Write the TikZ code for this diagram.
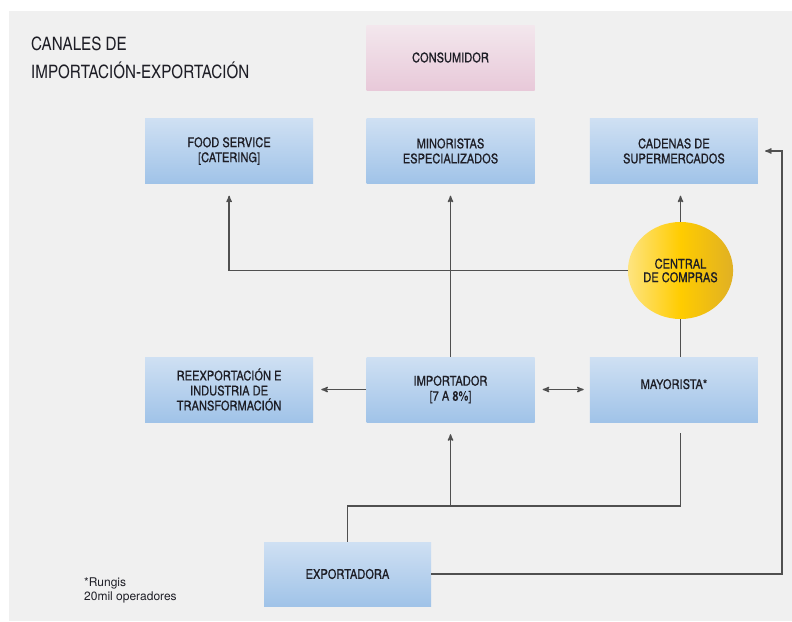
\documentclass[tikz,border=0pt]{standalone}
\usepackage{fontspec}
\setmainfont{TeX Gyre Heros}
\newfontfamily\condfont{TeX Gyre Heros Cn}
\newfontfamily\labelfont{TeX Gyre Heros Cn}[FakeBold=0.5]
\usetikzlibrary{
  arrows,
  shapes.geometric,
  positioning,
  scopes
}
\definecolor{panelgray}{RGB}{240,240,240}
\definecolor{boxtop}{RGB}{207,224,243}
\definecolor{boxbottom}{RGB}{160,195,232}
\definecolor{pinktop}{RGB}{243,231,237}
\definecolor{pinkbottom}{RGB}{232,201,217}
\definecolor{goldleft}{RGB}{254,228,128}
\definecolor{goldmid}{RGB}{255,204,0}
\definecolor{goldright}{RGB}{224,176,36}
\definecolor{linegray}{RGB}{80,80,80}
\definecolor{labeltext}{RGB}{30,30,38}

\begin{document}
\begin{tikzpicture}[x=1pt,y=-1pt,
      channel/.style={
         rectangle,
         minimum width=168pt,
         minimum height=65pt,
         inner sep=0pt,
         top color=boxtop,
         bottom color=boxbottom,
         align=center,
         text=labeltext,
         font=\labelfont\fontsize{13.5}{15}\selectfont
      },
      consumer/.style={
         channel,
         top color=pinktop,bottom color=pinkbottom
      },
      hub/.style={
         ellipse,
         minimum width=105pt,
         minimum height=97pt,
         inner sep=0pt,
         left color=goldleft,right color=goldright,middle color=goldmid,
         align=center,
         text=labeltext,
         font=\labelfont\fontsize{13.5}{13.5}\selectfont
      },
      point/.style={coordinate},>=stealth',
      link/.style={draw=linegray,line width=1.3pt},
      tip/.style={->,shorten >=12pt},
      hv path/.style={to path={-| (\tikztotarget)}},
      vh path/.style={to path={|- (\tikztotarget)}}
    ]
    \useasboundingbox (0,0) rectangle (792,621);
    \fill[panelgray] (9,11) rectangle (792,621);

    \node (title) [anchor=base west, align=left, inner sep=0pt, text=labeltext,
       font=\condfont\fontsize{18.5}{28}\selectfont] at (31,78) {CANALES DE\\IMPORTACIÓN-EXPORTACIÓN};
    \node (note) [anchor=base west, align=left, inner sep=0pt, text=labeltext,
       font=\fontsize{12}{14}\selectfont] at (84,600) {*Rungis\\20mil operadores};

    \node (consumer) [consumer] at (450.5,57.5) {CONSUMIDOR};
    \node (retail) [channel] at (450.5,151) {MINORISTAS\\ESPECIALIZADOS};
    \node (food) [channel, left=53pt of retail] {FOOD SERVICE\\{[CATERING]}};
    \node (chains) [channel, right=55pt of retail] {CADENAS DE\\SUPERMERCADOS};
    \node (central) [hub] at (680.5,270.5) {CENTRAL\\DE COMPRAS};
    \node (importer) [channel] at (450.5,389.5) {IMPORTADOR\\{[7 A 8\%]}};
    \node (reexport) [channel, left=53pt of importer] {REEXPORTACIÓN E\\INDUSTRIA DE\\TRANSFORMACIÓN};
    \node (wholesale) [channel, right=55pt of importer] {MAYORISTA*\\[-4pt]\mbox{}};
    \node (exporter) [channel, minimum width=167pt, minimum height=64pt] at (347.5,574) {EXPORTADORA};

    \coordinate (fork) at (680.5,506);
    \coordinate (edge) at (782,151);

    % upper level
    \draw[link,tip] (central.west) to[hv path] (food.south);
    \draw[link,tip] (importer.north) -- (retail.south);
    \draw[link,tip] (central.north) -- (central.north |- chains.south);
    \draw[link] (central.south) -- (central.south |- wholesale.north);
    % middle level
    \draw[link,tip,shorten >=8pt] (importer.west) -- (reexport.east);
    \draw[link,<->,shorten <=8pt,shorten >=6pt] (importer.east) -- (wholesale.west);
    % lower level
    \draw[link,shorten <=11pt] (wholesale.south -| central.south) -- (fork) to[hv path] (exporter.north);
    \draw[link,tip] (fork -| importer.south) -- (importer.south);
    \draw[link,tip,shorten >=7pt] (exporter.east) to[hv path] (edge) -- (chains.east);
\end{tikzpicture}
\end{document}
